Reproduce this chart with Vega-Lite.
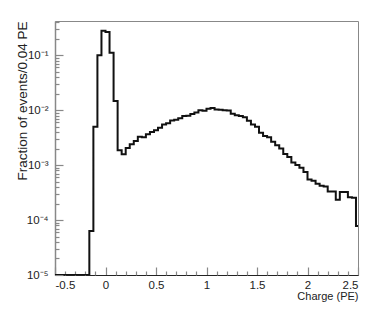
{
  "$schema": "https://vega.github.io/schema/vega-lite/v6.json",
  "width": 303,
  "height": 254,
  "autosize": "none",
  "padding": {"left": 55, "top": 21, "right": 16, "bottom": 41},
  "config": {
    "font": "Liberation Sans",
    "view": {"stroke": "#888", "strokeWidth": 1},
    "axis": {"grid": false, "labelFont": "Liberation Sans", "titleFont": "Liberation Sans", "labelColor": "#222", "titleColor": "#222", "titleFontWeight": "normal"}
  },
  "data": {"values": [
    {"charge": -0.52, "fraction": 1e-5},
    {"charge": -0.48, "fraction": 1e-5},
    {"charge": -0.44, "fraction": 1e-5},
    {"charge": -0.40, "fraction": 1e-5},
    {"charge": -0.36, "fraction": 1e-5},
    {"charge": -0.32, "fraction": 1e-5},
    {"charge": -0.28, "fraction": 1e-5},
    {"charge": -0.24, "fraction": 1e-5},
    {"charge": -0.20, "fraction": 1e-5},
    {"charge": -0.16, "fraction": 6.3e-5},
    {"charge": -0.12, "fraction": 5.0e-3},
    {"charge": -0.08, "fraction": 0.10},
    {"charge": -0.04, "fraction": 0.28},
    {"charge": 0.00, "fraction": 0.265},
    {"charge": 0.04, "fraction": 0.111},
    {"charge": 0.08, "fraction": 0.0147},
    {"charge": 0.12, "fraction": 1.87e-3},
    {"charge": 0.16, "fraction": 1.58e-3},
    {"charge": 0.20, "fraction": 2.06e-3},
    {"charge": 0.24, "fraction": 2.4e-3},
    {"charge": 0.28, "fraction": 2.76e-3},
    {"charge": 0.32, "fraction": 3.27e-3},
    {"charge": 0.36, "fraction": 3.2e-3},
    {"charge": 0.40, "fraction": 3.66e-3},
    {"charge": 0.44, "fraction": 4.0e-3},
    {"charge": 0.48, "fraction": 4.3e-3},
    {"charge": 0.52, "fraction": 4.8e-3},
    {"charge": 0.56, "fraction": 5.5e-3},
    {"charge": 0.60, "fraction": 5.8e-3},
    {"charge": 0.64, "fraction": 6.5e-3},
    {"charge": 0.68, "fraction": 6.7e-3},
    {"charge": 0.72, "fraction": 7.1e-3},
    {"charge": 0.76, "fraction": 7.8e-3},
    {"charge": 0.80, "fraction": 7.9e-3},
    {"charge": 0.84, "fraction": 8.5e-3},
    {"charge": 0.88, "fraction": 9.1e-3},
    {"charge": 0.92, "fraction": 1.0e-2},
    {"charge": 0.96, "fraction": 9.75e-3},
    {"charge": 1.00, "fraction": 1.06e-2},
    {"charge": 1.04, "fraction": 1.1e-2},
    {"charge": 1.08, "fraction": 1.03e-2},
    {"charge": 1.12, "fraction": 1.02e-2},
    {"charge": 1.16, "fraction": 1.0e-2},
    {"charge": 1.20, "fraction": 9.9e-3},
    {"charge": 1.24, "fraction": 8.6e-3},
    {"charge": 1.28, "fraction": 8.1e-3},
    {"charge": 1.32, "fraction": 7.8e-3},
    {"charge": 1.36, "fraction": 7.4e-3},
    {"charge": 1.40, "fraction": 6.4e-3},
    {"charge": 1.44, "fraction": 5.5e-3},
    {"charge": 1.48, "fraction": 5.0e-3},
    {"charge": 1.52, "fraction": 3.9e-3},
    {"charge": 1.56, "fraction": 3.4e-3},
    {"charge": 1.60, "fraction": 3.2e-3},
    {"charge": 1.64, "fraction": 2.65e-3},
    {"charge": 1.68, "fraction": 2.3e-3},
    {"charge": 1.72, "fraction": 2.0e-3},
    {"charge": 1.76, "fraction": 1.6e-3},
    {"charge": 1.80, "fraction": 1.4e-3},
    {"charge": 1.84, "fraction": 1.12e-3},
    {"charge": 1.88, "fraction": 1.0e-3},
    {"charge": 1.92, "fraction": 9.0e-4},
    {"charge": 1.96, "fraction": 7.5e-4},
    {"charge": 2.00, "fraction": 5.5e-4},
    {"charge": 2.04, "fraction": 5.2e-4},
    {"charge": 2.08, "fraction": 4.6e-4},
    {"charge": 2.12, "fraction": 4.2e-4},
    {"charge": 2.16, "fraction": 4.1e-4},
    {"charge": 2.20, "fraction": 3.3e-4},
    {"charge": 2.24, "fraction": 3.3e-4},
    {"charge": 2.28, "fraction": 2.35e-4},
    {"charge": 2.32, "fraction": 3.25e-4},
    {"charge": 2.36, "fraction": 3.25e-4},
    {"charge": 2.40, "fraction": 2.6e-4},
    {"charge": 2.44, "fraction": 2.55e-4},
    {"charge": 2.48, "fraction": 7.8e-5},
    {"charge": 2.52, "fraction": 7.8e-5}
  ]},
  "layer": [
    {
      "mark": {"type": "line", "interpolate": "step-after", "color": "#111", "strokeWidth": 2, "clip": true},
      "encoding": {
        "x": {"field": "charge", "type": "quantitative",
          "scale": {"domain": [-0.5, 2.5], "nice": false, "zero": false},
          "axis": {"orient": "bottom", "title": "Charge (PE)", "values": [-0.5, 0, 0.5, 1, 1.5, 2, 2.5],
            "labelExpr": "'' + datum.value", "labelFontSize": 11.5, "labelPadding": 12, "tickSize": -8, "tickColor": "#888", "tickWidth": 1.2,
            "domainColor": "#222", "domainWidth": 1.2, "titleFontSize": 11, "titleAnchor": "end", "titleAlign": "right", "titlePadding": 0}},
        "y": {"field": "fraction", "type": "quantitative",
          "scale": {"type": "log", "domain": [1e-5, 0.42], "nice": false},
          "axis": {"orient": "left", "title": "Fraction of events/0.04 PE", "values": [1e-5, 1e-4, 1e-3, 1e-2, 1e-1],
            "labelExpr": "datum.value < 2e-5 ? '10⁻⁵' : datum.value < 2e-4 ? '10⁻⁴' : datum.value < 2e-3 ? '10⁻³' : datum.value < 2e-2 ? '10⁻²' : '10⁻¹'",
            "labelFontSize": 11.5, "labelPadding": 15, "tickSize": -8, "tickColor": "#888", "tickWidth": 1.2,
            "domainColor": "#888", "domainWidth": 1.5, "titleFontSize": 13.5, "titleAnchor": "end", "titleAlign": "right", "titlePadding": -3}}
      }
    },
    {
      "mark": {"type": "line", "interpolate": "step-after", "strokeOpacity": 0, "clip": true},
      "encoding": {
        "x": {"field": "charge", "type": "quantitative",
          "axis": {"orient": "bottom", "title": null, "labels": false, "domain": false,
            "values": [-0.4, -0.3, -0.2, -0.1, 0.1, 0.2, 0.3, 0.4, 0.6, 0.7, 0.8, 0.9, 1.1, 1.2, 1.3, 1.4, 1.6, 1.7, 1.8, 1.9, 2.1, 2.2, 2.3, 2.4],
            "tickSize": -4, "tickColor": "#888", "tickWidth": 1.2}},
        "y": {"field": "fraction", "type": "quantitative",
          "axis": {"orient": "left", "title": null, "labels": false, "domain": false,
            "values": [2e-5, 3e-5, 4e-5, 5e-5, 6e-5, 7e-5, 8e-5, 9e-5, 2e-4, 3e-4, 4e-4, 5e-4, 6e-4, 7e-4, 8e-4, 9e-4, 2e-3, 3e-3, 4e-3, 5e-3, 6e-3, 7e-3, 8e-3, 9e-3, 2e-2, 3e-2, 4e-2, 5e-2, 6e-2, 7e-2, 8e-2, 9e-2, 0.2, 0.3, 0.4],
            "tickSize": -4, "tickColor": "#888", "tickWidth": 1.2}}
      }
    }
  ],
  "resolve": {"axis": {"x": "independent", "y": "independent"}}
}
